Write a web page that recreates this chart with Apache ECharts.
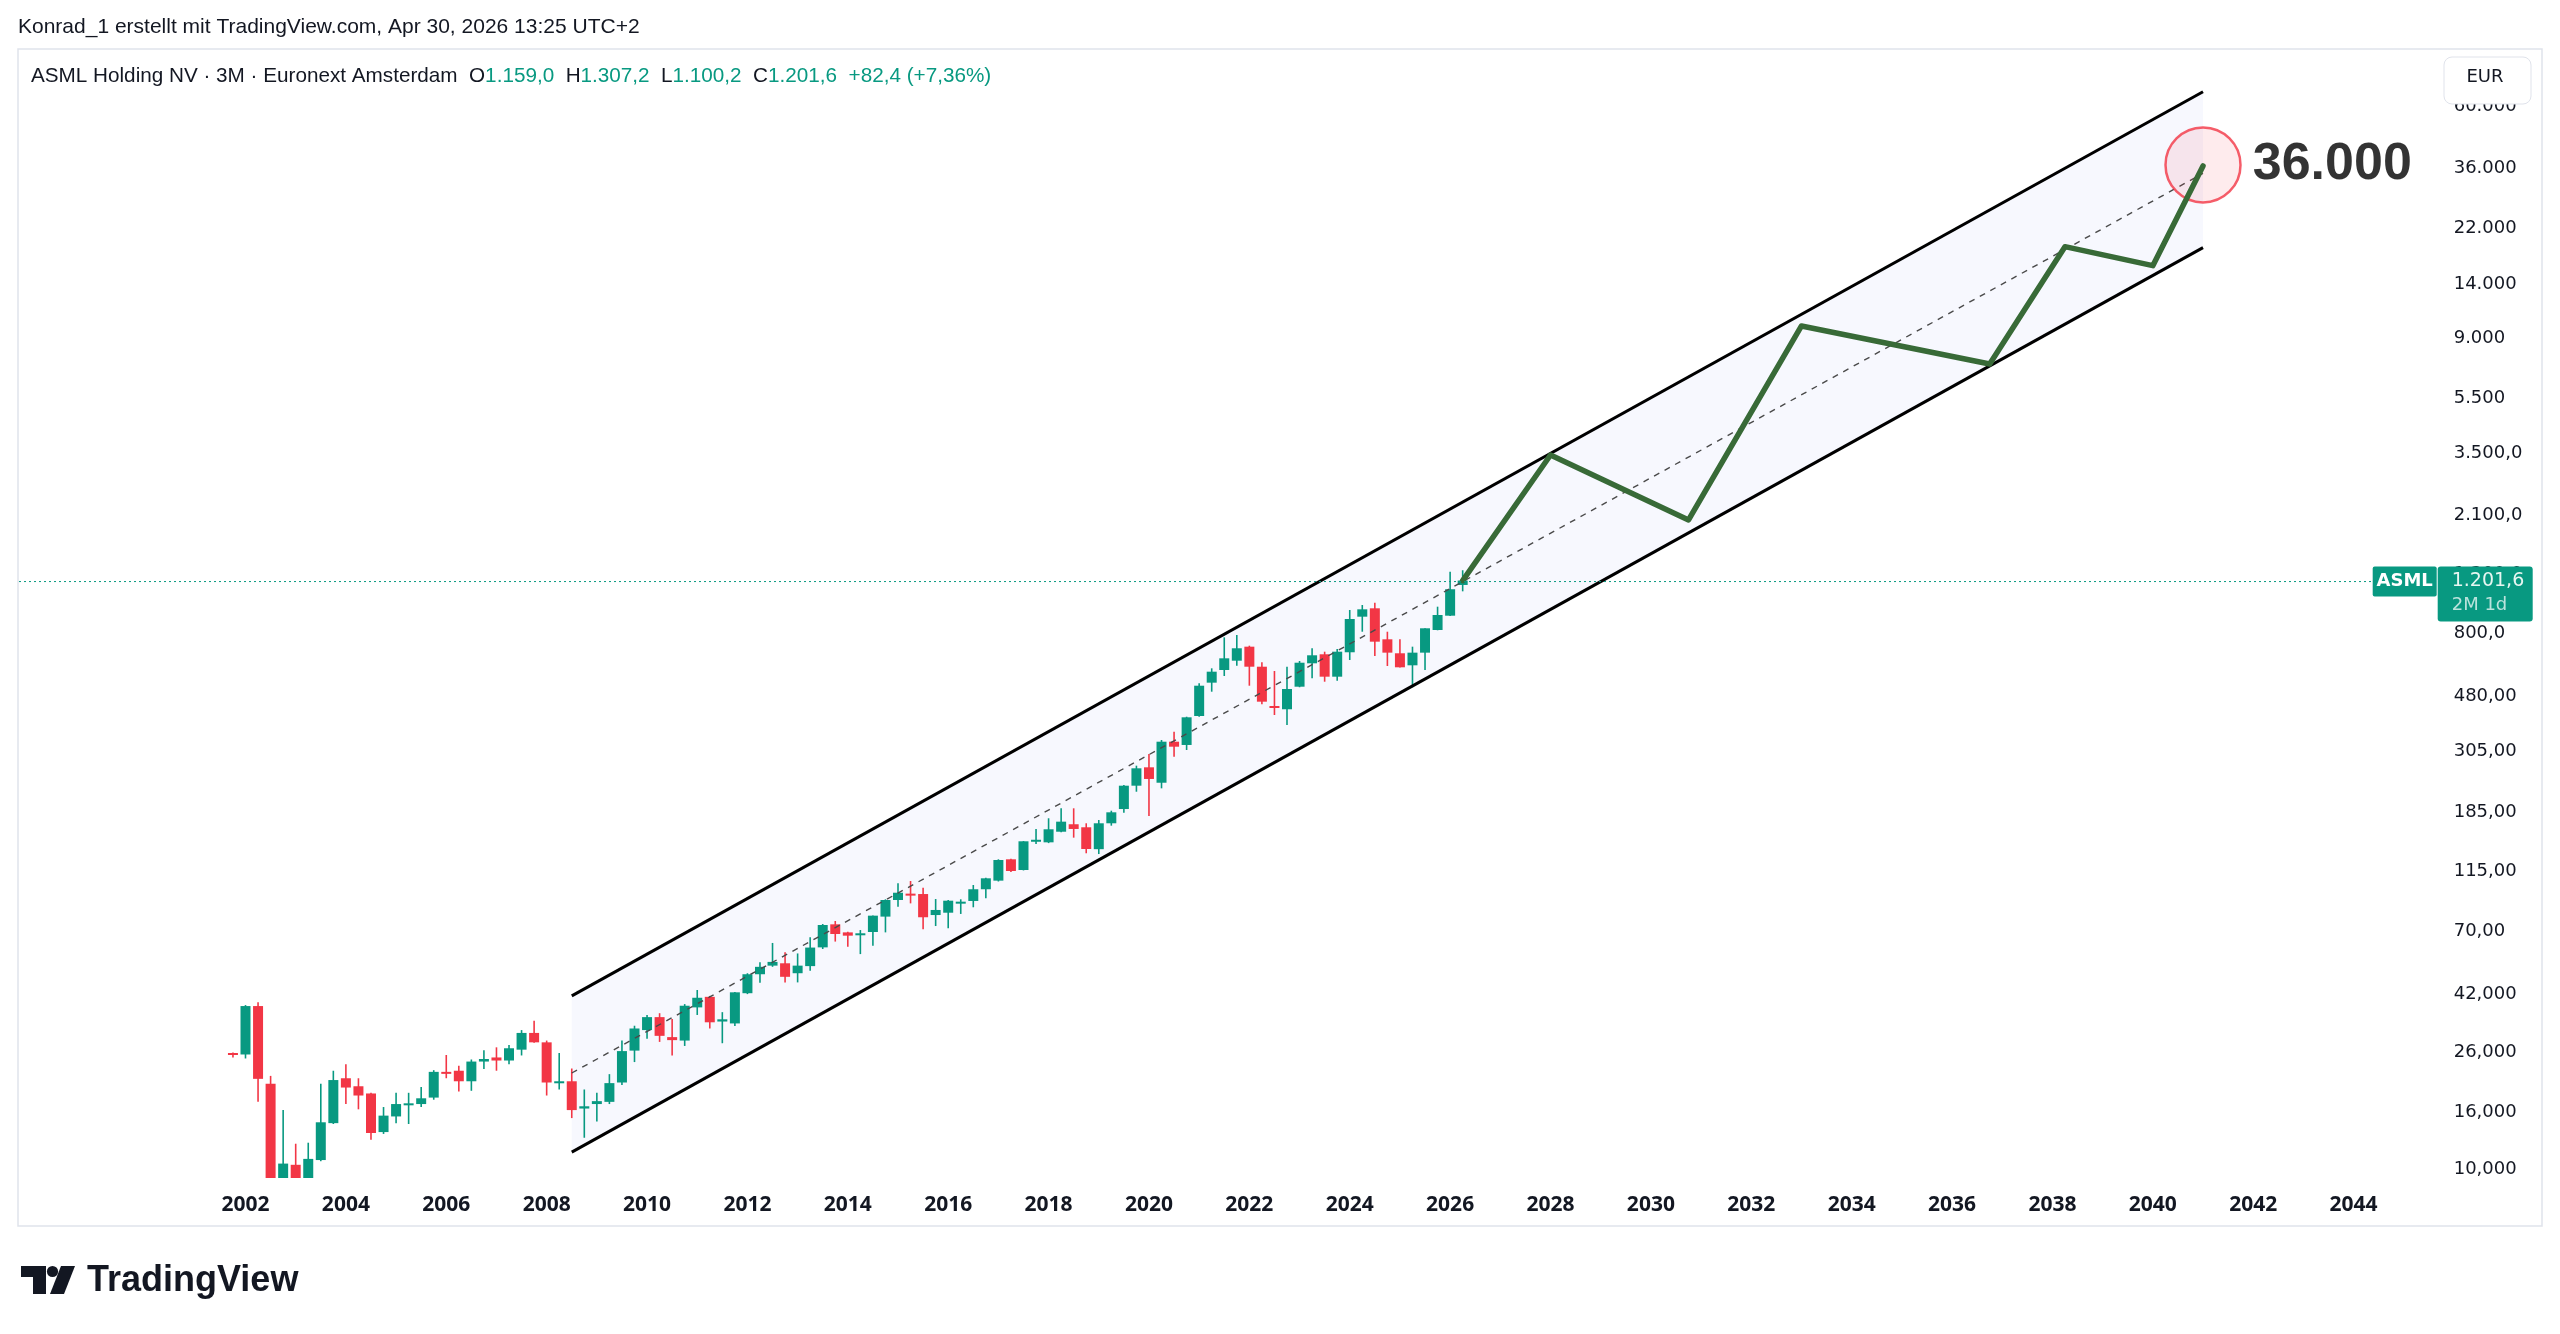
<!DOCTYPE html>
<html>
<head>
<meta charset="utf-8">
<title>ASML Holding NV · 3M</title>
<script src="https://cdn.jsdelivr.net/npm/echarts@6/dist/echarts.min.js"></script>
<style>
  html, body { margin: 0; padding: 0; background: #fff; }
  #chart { width: 2560px; height: 1334px; }
</style>
</head>
<body>
<div id="chart"></div>
<script>
  // quarterly time axis, 1998 Q1 .. 2045 Q4
  var quarters = [];
  for (var yr = 1998; yr <= 2045; yr++) {
    for (var q = 1; q <= 4; q++) quarters.push(yr + ' Q' + q);
  }

  // 3M candles, first one is 2001 Q4
  var candleStart = '2001 Q4';
  var open = [25.2, 24.9, 37.0, 19.6, 6.5, 10.1, 7.8, 10.5, 14.2, 20.5,
    19.2, 18.1, 13.2, 15.0, 16.6, 16.6, 17.5, 21.6, 21.8, 20.0,
    23.5, 24.3, 23.7, 25.9, 29.7, 27.5, 19.8, 20.0, 16.0, 16.6,
    16.9, 19.8, 25.7, 30.4, 33.8, 28.7, 27.9, 36.6, 39.9, 32.6,
    32.1, 41.1, 48.0, 51.5, 52.5, 48.4, 51.3, 59.8, 72.2, 67.6,
    66.5, 67.8, 76.9, 88.1, 92.8, 92.5, 77.9, 79.4, 86.2, 87.4,
    96.2, 103.2, 122.9, 112.6, 142.6, 141.2, 154.0, 163.7, 159.7, 133.5,
    165.0, 185.4, 224.4, 260.8, 229.9, 321.6, 313.1, 396.8, 521.2, 578.1,
    623.8, 699.6, 593.9, 430.6, 419.3, 504.3, 610.6, 657.4, 547.3, 668.3,
    894.1, 957.6, 743.1, 662.8, 600.7, 666.2, 801.9, 901.4, 1159.0];
  var high = [25.3, 37.3, 38.2, 20.9, 15.8, 12.0, 12.1, 19.6, 21.8, 23.0,
    20.5, 18.2, 16.2, 18.2, 18.2, 19.1, 21.9, 24.8, 22.7, 23.9,
    25.8, 26.4, 26.9, 30.4, 32.8, 27.9, 25.2, 22.2, 18.7, 18.2,
    21.2, 27.9, 31.5, 34.4, 34.9, 33.3, 37.6, 42.2, 40.2, 35.2,
    41.5, 48.4, 52.9, 62.0, 57.4, 56.9, 64.9, 72.4, 74.2, 67.9,
    68.9, 77.6, 88.6, 101.0, 102.9, 97.4, 88.8, 88.1, 88.6, 99.6,
    105.7, 122.9, 123.5, 142.6, 157.5, 171.9, 186.5, 186.5, 165.0, 169.5,
    182.9, 225.7, 264.3, 290.8, 326.1, 348.9, 394.5, 518.5, 586.1, 755.2,
    769.5, 705.3, 615.6, 573.4, 593.9, 622.3, 690.5, 671.5, 686.5, 944.3,
    983.8, 1002.5, 790.7, 743.1, 699.6, 814.0, 970.3, 1292.0, 1307.2];
  var low = [24.3, 24.1, 16.9, 5.5, 5.0, 6.5, 7.0, 10.4, 14.1, 16.6,
    15.9, 12.4, 13.0, 14.2, 14.1, 16.2, 17.2, 20.5, 18.4, 18.5,
    22.1, 21.8, 23.0, 24.7, 27.4, 17.8, 18.7, 14.8, 12.6, 14.4,
    16.6, 19.4, 23.4, 28.3, 27.6, 24.7, 26.7, 34.4, 30.8, 27.3,
    31.4, 40.8, 44.8, 51.0, 44.9, 44.9, 49.4, 59.0, 62.7, 60.1,
    56.6, 60.6, 67.6, 83.4, 85.7, 69.3, 71.2, 69.9, 78.6, 83.0,
    89.3, 102.5, 110.8, 112.2, 139.3, 140.3, 153.4, 146.7, 129.1, 128.3,
    161.8, 179.9, 213.6, 175.1, 219.6, 284.5, 300.5, 394.5, 484.1, 550.5,
    598.8, 508.4, 436.7, 400.0, 368.7, 502.0, 540.2, 525.3, 529.7, 627.5,
    790.7, 648.2, 597.4, 590.0, 502.0, 578.1, 800.0, 900.0, 1100.2];
  var close = [24.8, 37.0, 20.4, 6.5, 10.2, 7.8, 10.6, 14.3, 20.2, 19.0,
    17.8, 13.1, 15.1, 16.6, 16.7, 17.4, 21.6, 21.4, 20.0, 23.5,
    24.0, 23.7, 26.2, 29.7, 27.5, 19.8, 20.0, 15.8, 16.3, 17.0,
    19.7, 25.6, 30.8, 33.8, 29.0, 28.0, 37.1, 39.6, 32.4, 33.2,
    41.4, 48.0, 51.0, 53.1, 47.0, 51.5, 59.7, 71.8, 66.7, 65.8,
    67.1, 77.5, 88.1, 93.5, 91.5, 76.5, 81.2, 87.6, 86.9, 96.2,
    105.2, 122.2, 111.7, 142.4, 144.2, 157.1, 167.2, 157.5, 133.7, 165.0,
    180.5, 224.4, 258.7, 237.1, 321.6, 308.7, 392.6, 508.4, 570.2, 636.1,
    690.5, 593.9, 446.1, 426.1, 494.9, 613.6, 652.0, 547.3, 671.5, 877.5,
    949.7, 728.8, 666.2, 591.0, 666.2, 813.1, 906.6, 1119.2, 1201.6];

  // price scale ticks (log scale)
  var tickValues = [10, 16, 26, 42, 70, 115, 185, 305, 480, 800,
    1300, 2100, 3500, 5500, 9000, 14000, 22000, 36000, 60000];
  var tickLabels = ['10,000', '16,000', '26,000', '42,000', '70,00', '115,00', '185,00', '305,00', '480,00', '800,0',
    '1.300,0', '2.100,0', '3.500,0', '5.500', '9.000', '14.000', '22.000', '36.000', '60.000'];

  // parallel channel
  var channelX = ['2008 Q3', '2041 Q1'];
  var channelUpper = [40.2, 65500];
  var channelMid = [21.4, 33600];
  var channelLower = [11.2, 18300];

  // projected path
  var pathX = ['2026 Q2', '2028 Q1', '2030 Q4', '2033 Q1', '2036 Q4', '2038 Q2', '2040 Q1', '2041 Q1'];
  var pathY = [1201.6, 3356, 1972, 9640, 7063, 18440, 15790, 35700];

  var targetX = '2041 Q1';
  var targetY = 36000;
  var targetText = '36.000';

  var lastPrice = 1201.6;
  var lastPriceText = '1.201,6';
  var lastCountdown = '2M 1d';

  var UP = '#089981', DOWN = '#f23645', TEXT = '#131722';

  var startIdx = quarters.indexOf(candleStart);
  var candleData = open.map(function (o, i) {
    return [quarters[startIdx + i], o, close[i], low[i], high[i]];
  });

  function pairs(xs, ys) {
    return xs.map(function (x, i) { return [x, ys[i]]; });
  }

  var myChart = echarts.init(document.getElementById('chart'));

  var option = {
    animation: false,
    backgroundColor: '#fff',
    grid: { left: 38.46, right: 112.3, top: 50, bottom: 156 },
    xAxis: {
      type: 'category',
      data: quarters,
      boundaryGap: true,
      axisLine: { show: false },
      axisTick: { show: false },
      splitLine: { show: false },
      axisLabel: {
        interval: function (index, value) {
          var y = parseInt(value, 10);
          return value.slice(-2) === 'Q1' && y % 2 === 0 && y >= 2002 && y <= 2044;
        },
        formatter: function (value) { return value.slice(0, 4); },
        margin: 17,
        color: TEXT,
        fontSize: 21,
        fontWeight: 'bold',
        fontFamily: 'Noto Sans'
      }
    },
    yAxis: {
      type: 'log',
      logBase: 10,
      position: 'right',
      min: 9.066,
      max: 92140,
      axisLine: { show: false },
      axisTick: { show: false },
      splitLine: { show: false },
      axisLabel: {
        customValues: tickValues,
        formatter: function (v) {
          var best = 0, bd = Infinity;
          tickValues.forEach(function (t, i) {
            var d = Math.abs(Math.log(v / t));
            if (d < bd) { bd = d; best = i; }
          });
          return tickLabels[best];
        },
        align: 'left',
        verticalAlign: 'top',
        lineHeight: 7,
        margin: 6,
        color: TEXT,
        fontSize: 18,
        fontFamily: 'DejaVu Sans'
      }
    },
    series: [
      {
        // channel background
        type: 'custom',
        z: 1,
        silent: true,
        data: [[0, 0]],
        renderItem: function (params, api) {
          var a = quarters.indexOf(channelX[0]), b = quarters.indexOf(channelX[1]);
          var pts = [
            api.coord([a, channelUpper[0]]),
            api.coord([b, channelUpper[1]]),
            api.coord([b, channelLower[1]]),
            api.coord([a, channelLower[0]])
          ];
          return { type: 'polygon', shape: { points: pts }, style: { fill: '#f7f8fe' } };
        }
      },
      {
        // candles, clipped to the plot area
        type: 'custom',
        z: 3,
        clip: true,
        silent: true,
        data: candleData,
        encode: { x: 0, y: [1, 2, 3, 4] },
        renderItem: function (params, api) {
          var xi = api.value(0);
          var o = api.value(1), c = api.value(2), l = api.value(3), h = api.value(4);
          var pO = api.coord([xi, o]), pC = api.coord([xi, c]);
          var pL = api.coord([xi, l]), pH = api.coord([xi, h]);
          var color = c >= o ? UP : DOWN;
          var x = pO[0];
          var top = Math.min(pO[1], pC[1]);
          var bh = Math.max(Math.abs(pO[1] - pC[1]), 2);
          return {
            type: 'group',
            children: [
              { type: 'line', shape: { x1: x, y1: pH[1], x2: x, y2: pL[1] }, style: { stroke: color, lineWidth: 1.6 } },
              { type: 'rect', shape: { x: x - 5, y: top, width: 10, height: bh }, style: { fill: color } }
            ]
          };
        }
      },
      {
        type: 'line', z: 4, silent: true, symbol: 'none',
        data: pairs(channelX, channelUpper),
        lineStyle: { color: '#000', width: 3 }
      },
      {
        type: 'line', z: 4, silent: true, symbol: 'none',
        data: pairs(channelX, channelLower),
        lineStyle: { color: '#000', width: 3 }
      },
      {
        type: 'line', z: 4, silent: true, symbol: 'none',
        data: pairs(channelX, channelMid),
        lineStyle: { color: '#4a4a4a', width: 1.4, type: [6, 6] }
      },
      {
        type: 'scatter', z: 5, silent: true,
        data: [[targetX, targetY]],
        symbol: 'circle',
        symbolSize: 75,
        itemStyle: { color: 'rgba(242,54,69,0.12)', borderColor: DOWN, borderWidth: 2.5 },
        label: {
          show: true,
          position: 'right',
          distance: 11,
          formatter: targetText,
          color: '#000',
          fontSize: 52,
          fontWeight: 'bold',
          fontFamily: 'Liberation Sans'
        }
      },
      {
        type: 'line', z: 6, silent: true, symbol: 'none',
        data: pairs(pathX, pathY),
        lineStyle: { color: '#386a37', width: 5.5, cap: 'round', join: 'round' }
      },
      {
        // last price line and tags on the price scale
        type: 'custom',
        z: 10,
        clip: false,
        silent: true,
        data: [[quarters.indexOf('2026 Q2'), lastPrice]],
        renderItem: function (params, api) {
          var p = api.coord([api.value(0), api.value(1)]);
          var right = params.coordSys.x + params.coordSys.width;
          var top = p[1] - 14;
          return {
            type: 'group',
            children: [
              { type: 'line', shape: { x1: 19, y1: p[1] + 1, x2: right - 75, y2: p[1] + 1 }, style: { stroke: UP, lineWidth: 1, lineDash: [2, 3] } },
              { type: 'rect', shape: { x: right - 75, y: top, width: 64, height: 30, r: 2 }, style: { fill: UP } },
              { type: 'text', style: { x: right - 43, y: top + 15, text: 'ASML', fill: '#fff', fontSize: 18, fontWeight: 'bold', fontFamily: 'DejaVu Sans', align: 'center', verticalAlign: 'middle' } },
              { type: 'rect', shape: { x: right - 10, y: top, width: 95, height: 55, r: 3 }, style: { fill: UP } },
              { type: 'text', style: { x: right + 4, y: top + 15, text: lastPriceText, fill: '#e6f6f1', fontSize: 19, fontFamily: 'DejaVu Sans', verticalAlign: 'middle' } },
              { type: 'text', style: { x: right + 4, y: top + 39, text: lastCountdown, fill: 'rgba(255,255,255,0.72)', fontSize: 18, fontFamily: 'DejaVu Sans', verticalAlign: 'middle' } }
            ]
          };
        }
      }
    ],
    graphic: [
      {
        type: 'rect', z: -1, silent: true,
        shape: { x: 18, y: 49, width: 2524, height: 1177 },
        style: { fill: 'none', stroke: '#e0e3eb', lineWidth: 1.5 }
      },
      {
        type: 'text', left: 18, top: 17,
        style: { text: 'Konrad_1 erstellt mit TradingView.com, Apr 30, 2026 13:25 UTC+2', fill: TEXT, fontSize: 21, fontFamily: 'Liberation Sans' }
      },
      {
        type: 'text', left: 31, top: 66,
        style: {
          text: '{n|ASML Holding NV · 3M · Euronext Amsterdam}  {n|O}{g|1.159,0}  {n|H}{g|1.307,2}  {n|L}{g|1.100,2}  {n|C}{g|1.201,6}  {g|+82,4 (+7,36%)}',
          fontSize: 20.7, fontFamily: 'Liberation Sans', fill: TEXT,
          rich: {
            n: { fill: TEXT, fontSize: 20.7, fontFamily: 'Liberation Sans' },
            g: { fill: UP, fontSize: 20.7, fontFamily: 'Liberation Sans' }
          }
        }
      },
      {
        type: 'rect', z: 100, zlevel: 0,
        shape: { x: 2444, y: 57, width: 87, height: 47, r: 8 },
        style: { fill: '#fff', stroke: '#e0e3eb', lineWidth: 1 }
      },
      {
        type: 'text', z: 101,
        style: { x: 2485, y: 77, text: 'EUR', fill: TEXT, fontSize: 18, fontFamily: 'DejaVu Sans', align: 'center', verticalAlign: 'middle' }
      },
      {
        type: 'group', silent: true,
        children: [
          { type: 'rect', shape: { x: 21, y: 1266, width: 25, height: 11 }, style: { fill: '#131722' } },
          { type: 'rect', shape: { x: 33, y: 1266, width: 13, height: 28 }, style: { fill: '#131722' } },
          { type: 'circle', shape: { cx: 52.5, cy: 1271.5, r: 5.6 }, style: { fill: '#131722' } },
          { type: 'polygon', shape: { points: [[61, 1266], [75, 1266], [64, 1294], [50, 1294]] }, style: { fill: '#131722' } },
          { type: 'text', style: { x: 87, y: 1281, text: 'TradingView', fill: '#131722', fontSize: 36, fontWeight: 'bold', fontFamily: 'Liberation Sans', verticalAlign: 'middle' } }
        ]
      }
    ]
  };

  myChart.setOption(option);
</script>
</body>
</html>
